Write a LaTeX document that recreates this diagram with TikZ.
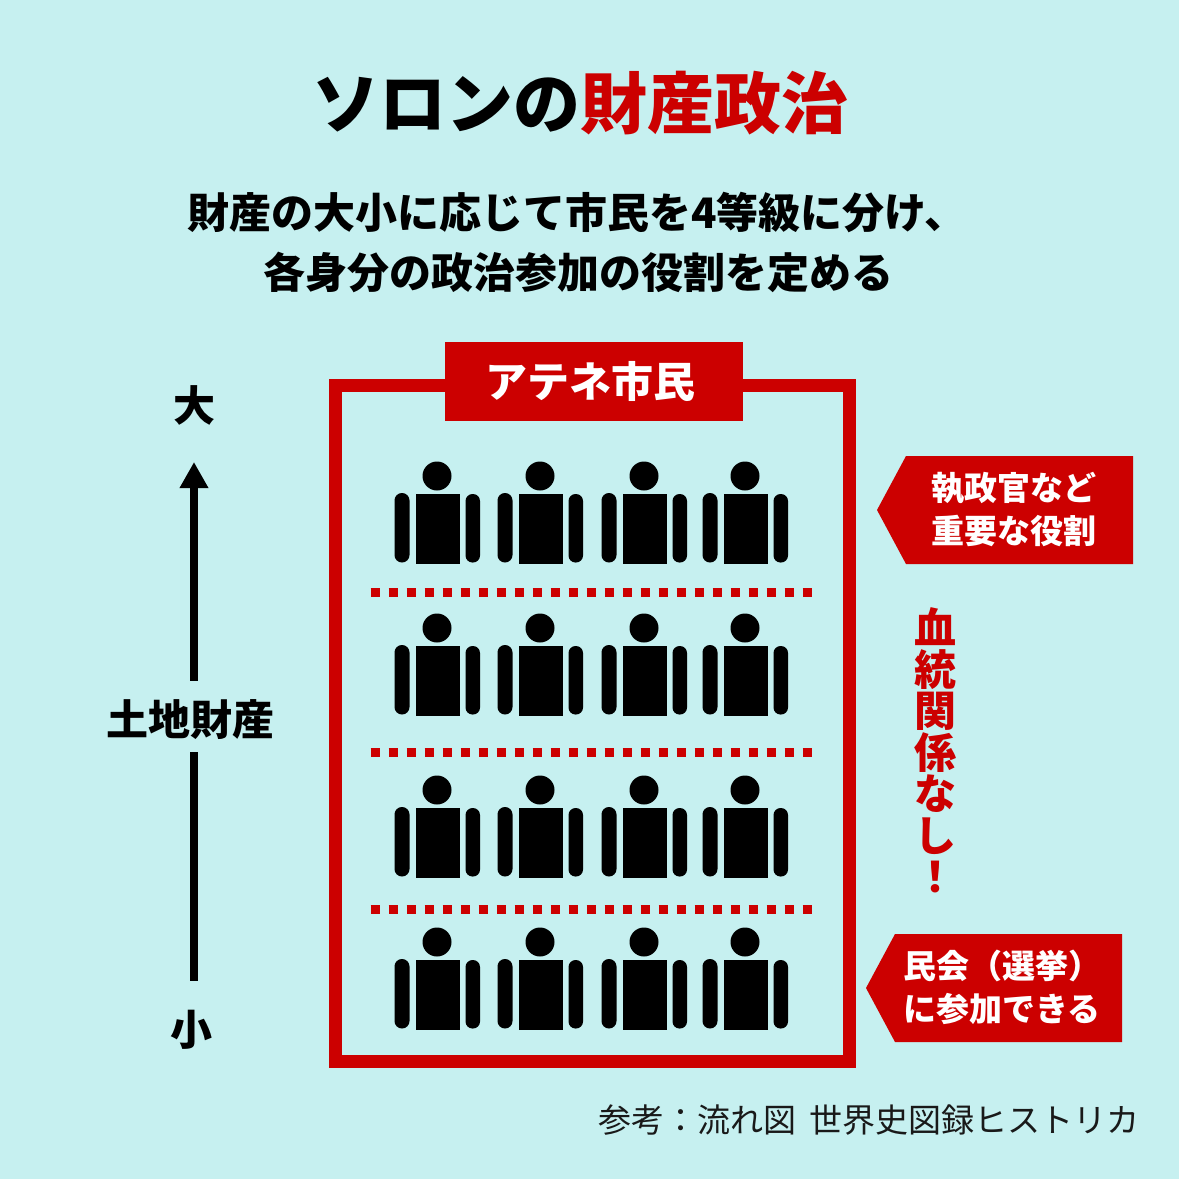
\documentclass[tikz,border=0pt]{standalone}
\usepackage{fontspec}
\setmainfont{Noto Sans CJK JP}
\usetikzlibrary{shapes, arrows.meta, positioning}

\definecolor{bgblue}{HTML}{C6F0F0}
\definecolor{solonred}{HTML}{CC0000}

\tikzset{
    headline/.style={font=\bfseries\fontsize{42}{52}\selectfont, inner sep=0pt, align=center},
    tagtext/.style={font=\bfseries\fontsize{33}{44}\selectfont, text=white, inner sep=0pt, align=left, anchor=west},
    tagshape/.style={fill=solonred, draw=none},
    axisline/.style={line width=8pt},
    rowline/.style={solonred, line width=9pt, dash pattern=on 9pt off 9pt},
    citizen/.pic={
        \fill (0,0) circle (14.5);
        \fill (-21,18) rectangle (23,88);
        \fill[rounded corners=7.4pt] (-42.5,17) rectangle (-27.5,86.5);
        \fill[rounded corners=7pt] (28.5,18) rectangle (43,86.5);
    }
}

\begin{document}
\begin{tikzpicture}[x=1pt, y=-1pt]
    \useasboundingbox[fill=bgblue] (0,0) rectangle (1179,1179);

    \node[font=\bfseries\fontsize{67}{80}\selectfont, inner sep=0pt] (title) at (580,103) {ソロンの\textcolor{solonred}{財産政治}};
    \node[headline] (leadone) at (577,212) {財産の大小に応じて市民を4等級に分け、};
    \node[headline] (leadtwo) at (578,272) {各身分の政治参加の役割を定める};

    % frame and tag
    \draw[solonred, line width=13pt] (335.5,385.5) rectangle (849.5,1061.5);
    \node[fill=solonred, minimum width=298pt, minimum height=79pt, inner sep=0pt] (citizens) at (594,381.5) {};
    \node[text=white, font=\bfseries\fontsize{42}{52}\selectfont, inner sep=0pt] (citizenstext) at (590,381.5) {アテネ市民};

    % people
    \foreach \rowy in {476,628,790,942}
        \foreach \colx in {437,540,644,745}
            \pic at (\colx,\rowy) {citizen};

    \foreach \liney in {592,752,909}
        \draw[rowline] (370.5,\liney) -- (812,\liney);

    % left axis
    \node[headline] (big) at (194,405) {大};
    \node[headline] (small) at (191,1030) {小};
    \node[headline, inner ysep=0pt, text height=54.8pt, text depth=16.2pt] (land) at (190,716.5) {土地財産};
    \coordinate (axistop) at (194,462);
    \coordinate (axisbottom) at (194,981);
    \draw[axisline, -{Triangle[length=26pt, width=27pt]}] (land.north -| axistop) -- (axistop);
    \draw[axisline] (land.south -| axisbottom) -- (axisbottom);

    % right tags
    \fill[tagshape] (877,510) -- (906,456) -- (1133,456) -- (1133,564) -- (906,564) -- cycle;
    \node[tagtext] (upper) at (931,509) {執政官など\\[-1pt]重要な役割};
    \fill[tagshape] (866,988) -- (895,934) -- (1122,934) -- (1122,1042) -- (895,1042) -- cycle;
    \node[tagtext] (lower) at (903,987) {民会（選挙）\\[-1pt]に参加できる};

    \node[text=solonred, font=\bfseries\fontsize{42}{41.5}\selectfont, align=center, inner sep=0pt] (noblood) at (935,750.5) {血\\統\\関\\係\\な\\し\\！};

    \node[font=\fontsize{33}{40}\selectfont, text=black!90, inner sep=0pt, anchor=east] (source) at (1140,1120) {参考：流れ図\hspace{0.4em}世界史図録ヒストリカ};
\end{tikzpicture}
\end{document}
